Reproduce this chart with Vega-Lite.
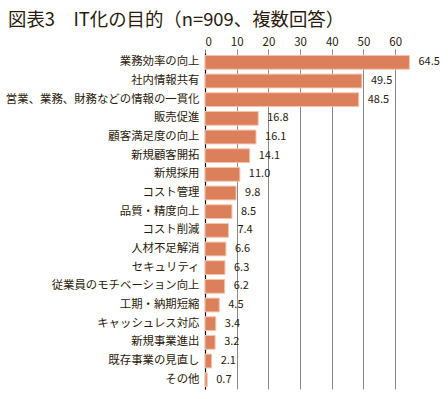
{
  "$schema": "https://vega.github.io/schema/vega-lite/v6.json",
  "autosize": {"type": "none"},
  "padding": {"left": 205, "top": 53, "right": 37, "bottom": 10},
  "width": 206,
  "height": 336,
  "background": "white",
  "title": {
    "text": "図表3　IT化の目的（n=909、複数回答）",
    "anchor": "start",
    "frame": "group",
    "dx": -197,
    "offset": 7,
    "fontSize": 18.4,
    "fontWeight": "normal",
    "font": "Noto Sans CJK JP",
    "color": "#2a1a0a"
  },
  "config": {
    "view": {"stroke": null},
    "font": "Noto Sans CJK JP"
  },
  "data": {
    "values": [
      {"item": "業務効率の向上", "value": 64.5},
      {"item": "社内情報共有", "value": 49.5},
      {"item": "営業、業務、財務などの情報の一貫化", "value": 48.5},
      {"item": "販売促進", "value": 16.8},
      {"item": "顧客満足度の向上", "value": 16.1},
      {"item": "新規顧客開拓", "value": 14.1},
      {"item": "新規採用", "value": 11.0},
      {"item": "コスト管理", "value": 9.8},
      {"item": "品質・精度向上", "value": 8.5},
      {"item": "コスト削減", "value": 7.4},
      {"item": "人材不足解消", "value": 6.6},
      {"item": "セキュリティ", "value": 6.3},
      {"item": "従業員のモチベーション向上", "value": 6.2},
      {"item": "工期・納期短縮", "value": 4.5},
      {"item": "キャッシュレス対応", "value": 3.4},
      {"item": "新規事業進出", "value": 3.2},
      {"item": "既存事業の見直し", "value": 2.1},
      {"item": "その他", "value": 0.7}
    ]
  },
  "encoding": {
    "y": {
      "field": "item",
      "type": "nominal",
      "sort": null,
      "scale": {"paddingInner": 0.26, "paddingOuter": 0.13},
      "axis": {
        "title": null,
        "ticks": false,
        "domain": true,
        "domainColor": "#000000",
        "domainWidth": 1.2,
        "labelPadding": 6,
        "labelFontSize": 11.4,
        "labelColor": "#2a1a0a",
        "labelLimit": 300
      }
    },
    "x": {
      "field": "value",
      "type": "quantitative",
      "scale": {"domain": [0, 65], "nice": false},
      "axis": {
        "orient": "top",
        "title": null,
        "values": [0, 10, 20, 30, 40, 50, 60],
        "grid": true,
        "gridColor": "#8a8a8a",
        "gridWidth": 1,
        "domain": false,
        "ticks": true,
        "tickColor": "#8a8a8a",
        "tickSize": 4,
        "labelPadding": 2,
        "labelFontSize": 11.5,
        "labelColor": "#2a1a0a"
      }
    }
  },
  "layer": [
    {
      "mark": {"type": "bar", "color": "#DC805C", "stroke": "#F2C4AE", "strokeWidth": 1}
    },
    {
      "mark": {"type": "text", "align": "left", "dx": 9, "fontSize": 11, "color": "#2a1a0a"},
      "encoding": {
        "text": {"field": "value", "type": "quantitative", "format": ".1f"}
      }
    }
  ]
}
